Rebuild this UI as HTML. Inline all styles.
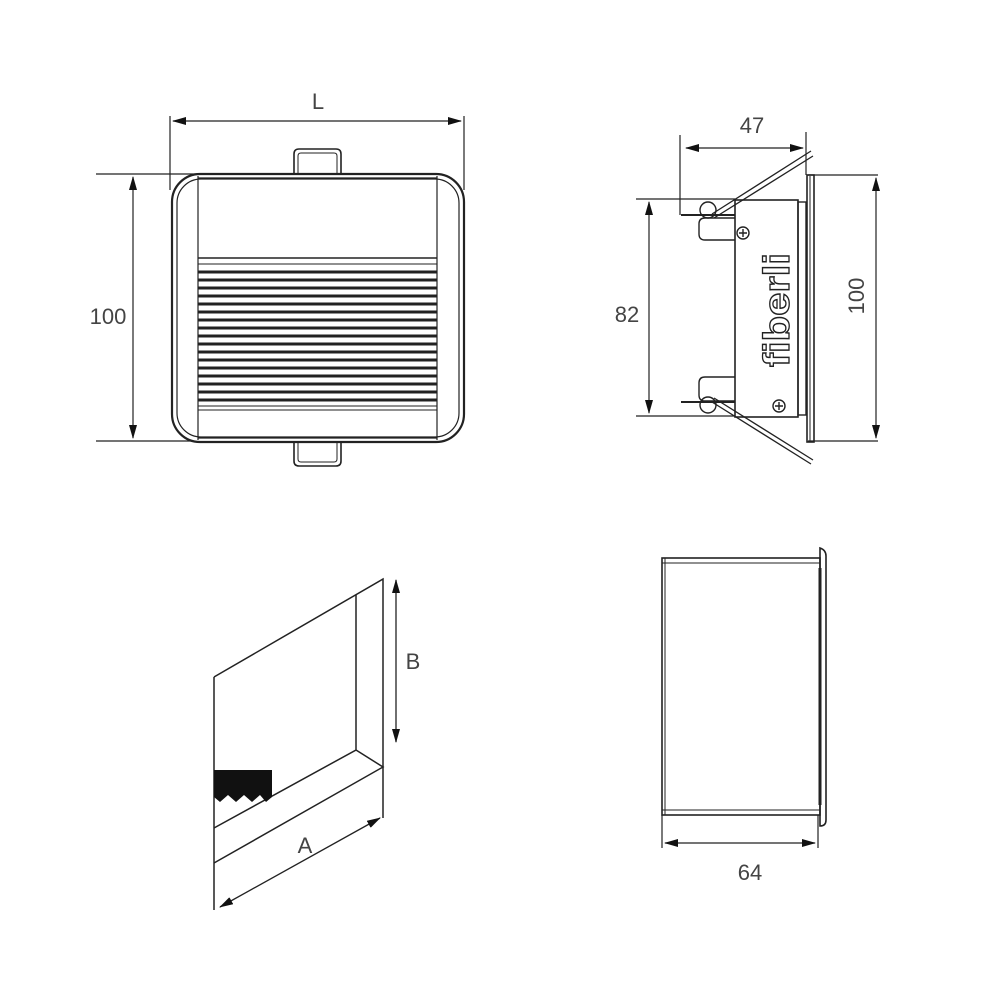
<!DOCTYPE html>
<html><head><meta charset="utf-8"><style>html,body{margin:0;padding:0;background:#fff}svg{display:block}</style></head><body>
<svg width="1000" height="1000" viewBox="0 0 1000 1000" xmlns="http://www.w3.org/2000/svg" font-family="Liberation Sans, sans-serif">
<defs>
<marker id="ar" markerWidth="14" markerHeight="8" refX="13" refY="4" orient="auto-start-reverse" markerUnits="userSpaceOnUse"><path d="M0,0 L14,4 L0,8 Z" fill="#111"/></marker>
</defs>
<g stroke="#222" fill="none" stroke-width="1.2">
<!-- Top-left view -->
<line x1="170" y1="116" x2="170" y2="190"/>
<line x1="464" y1="116" x2="464" y2="190"/>
<line x1="173" y1="121" x2="461" y2="121" marker-start="url(#ar)" marker-end="url(#ar)"/>
<line x1="96" y1="174" x2="228" y2="174"/>
<line x1="96" y1="441" x2="228" y2="441"/>
<line x1="133" y1="177" x2="133" y2="438" marker-start="url(#ar)" marker-end="url(#ar)"/>
<path d="M294,175 V154 Q294,149 299,149 H336 Q341,149 341,154 V175" stroke-width="1.6"/>
<path d="M298,175 V156 Q298,153 301,153 H334 Q337,153 337,156 V175" stroke-width="1"/>
<path d="M294,441 V461 Q294,466 299,466 H336 Q341,466 341,461 V441" stroke-width="1.6"/>
<path d="M298,441 V459 Q298,462 301,462 H334 Q337,462 337,459 V441" stroke-width="1"/>
<rect x="172" y="174" width="292" height="268" rx="28" fill="#fff" stroke-width="2.2"/>
<rect x="177" y="179" width="282" height="258" rx="24" stroke-width="1.2"/>
<line x1="198" y1="176" x2="198" y2="440"/>
<line x1="437" y1="176" x2="437" y2="440"/>
<line x1="198" y1="178" x2="437" y2="178"/>
<line x1="198" y1="438" x2="437" y2="438"/>
<line x1="198" y1="258" x2="437" y2="258" stroke-width="1.5"/>
<line x1="198" y1="264" x2="437" y2="264" stroke-width="1"/>
<g stroke-width="3">
<line x1="198" y1="272" x2="437" y2="272"/><line x1="198" y1="280" x2="437" y2="280"/><line x1="198" y1="288" x2="437" y2="288"/><line x1="198" y1="296" x2="437" y2="296"/><line x1="198" y1="304" x2="437" y2="304"/><line x1="198" y1="312" x2="437" y2="312"/><line x1="198" y1="320" x2="437" y2="320"/><line x1="198" y1="328" x2="437" y2="328"/><line x1="198" y1="336" x2="437" y2="336"/><line x1="198" y1="344" x2="437" y2="344"/><line x1="198" y1="352" x2="437" y2="352"/><line x1="198" y1="360" x2="437" y2="360"/><line x1="198" y1="368" x2="437" y2="368"/><line x1="198" y1="376" x2="437" y2="376"/><line x1="198" y1="384" x2="437" y2="384"/><line x1="198" y1="392" x2="437" y2="392"/><line x1="198" y1="400" x2="437" y2="400"/>
</g>
<line x1="198" y1="406" x2="437" y2="406" stroke-width="1"/>
<line x1="198" y1="410" x2="437" y2="410" stroke-width="1"/>

<!-- Top-right view -->
<line x1="680" y1="135" x2="680" y2="215"/>
<line x1="806" y1="132" x2="806" y2="175"/>
<line x1="686" y1="148" x2="803" y2="148" marker-start="url(#ar)" marker-end="url(#ar)"/>
<line x1="636" y1="199" x2="735" y2="199"/>
<line x1="636" y1="416" x2="735" y2="416"/>
<line x1="649" y1="202" x2="649" y2="413" marker-start="url(#ar)" marker-end="url(#ar)"/>
<line x1="808" y1="175" x2="878" y2="175"/>
<line x1="808" y1="441" x2="878" y2="441"/>
<line x1="876" y1="178" x2="876" y2="438" marker-start="url(#ar)" marker-end="url(#ar)"/>
<rect x="735" y="200" width="63" height="217" stroke-width="1.6"/>
<rect x="798" y="202" width="8" height="213" stroke-width="1.4"/>
<rect x="807" y="175" width="7" height="267" stroke-width="1.6"/>
<line x1="810" y1="176" x2="810" y2="441" stroke-width="1"/>
<!-- clips -->
<path d="M735,218 H705 Q699,218 699,224 V234 Q699,240 705,240 H735" stroke-width="1.4"/>
<path d="M735,377 H705 Q699,377 699,383 V395 Q699,401 705,401 H735" stroke-width="1.4"/>
<circle cx="708" cy="210" r="8" stroke-width="1.4"/>
<circle cx="708" cy="405" r="8" stroke-width="1.4"/>
<line x1="681" y1="215" x2="735" y2="215" stroke-width="2"/>
<line x1="681" y1="402" x2="735" y2="402" stroke-width="2"/>
<path d="M712,214 L811,151 M714,218 L813,156" stroke-width="1.3"/>
<path d="M712,402 L811,464 M714,398 L813,460" stroke-width="1.3"/>
<circle cx="743" cy="233" r="6" stroke-width="1.4"/>
<path d="M739,233 H747 M743,229 V237" stroke-width="1.4"/>
<circle cx="779" cy="406" r="6" stroke-width="1.4"/>
<path d="M775,406 H783 M779,402 V410" stroke-width="1.4"/>

<!-- Iso view -->
<path d="M214,677 L383,579 L383,818" stroke-width="1.5"/>
<line x1="214" y1="677" x2="214" y2="910" stroke-width="1.5"/>
<path d="M356,595 L356,750 L214,828 M356,750 L383,767 L214,863" stroke-width="1.5"/>
<path d="M214,770 H272 V797 L266,802 L260,795 L252,802 L244,795 L236,802 L228,795 L220,802 L214,797 Z" fill="#111" stroke="none"/>
<line x1="220" y1="907" x2="380" y2="818" stroke-width="1.3" marker-start="url(#ar)" marker-end="url(#ar)"/>
<line x1="396" y1="580" x2="396" y2="742" stroke-width="1.3" marker-start="url(#ar)" marker-end="url(#ar)"/>

<!-- Bottom-right view -->
<rect x="662" y="558" width="158" height="257" stroke-width="1.6"/>
<line x1="665" y1="558" x2="665" y2="815" stroke-width="1"/>
<line x1="662" y1="563" x2="820" y2="563" stroke-width="1"/>
<line x1="662" y1="810" x2="820" y2="810" stroke-width="1"/>
<path d="M820,548 Q826,550 826,556 V820 Q826,826 820,826 Z" stroke-width="1.6"/>
<line x1="820" y1="568" x2="820" y2="805" stroke-width="3"/>
<line x1="662" y1="815" x2="662" y2="848"/>
<line x1="818" y1="815" x2="818" y2="848"/>
<line x1="665" y1="843" x2="815" y2="843" marker-start="url(#ar)" marker-end="url(#ar)"/>
</g>
<g fill="#444" font-size="22">
<text x="318" y="109" text-anchor="middle">L</text>
<text x="108" y="324" text-anchor="middle">100</text>
<text x="752" y="133" text-anchor="middle">47</text>
<text x="627" y="322" text-anchor="middle">82</text>
<text transform="translate(864,296) rotate(-90)" text-anchor="middle">100</text>
<text x="413" y="669" text-anchor="middle">B</text>
<text x="305" y="853" text-anchor="middle">A</text>
<text x="750" y="880" text-anchor="middle">64</text>
</g>
<text transform="translate(789,367) rotate(-90)" font-size="36" font-weight="bold" fill="#fff" stroke="#222" stroke-width="1.3" textLength="114" lengthAdjust="spacingAndGlyphs">fiberli</text>
</svg>
</body></html>
